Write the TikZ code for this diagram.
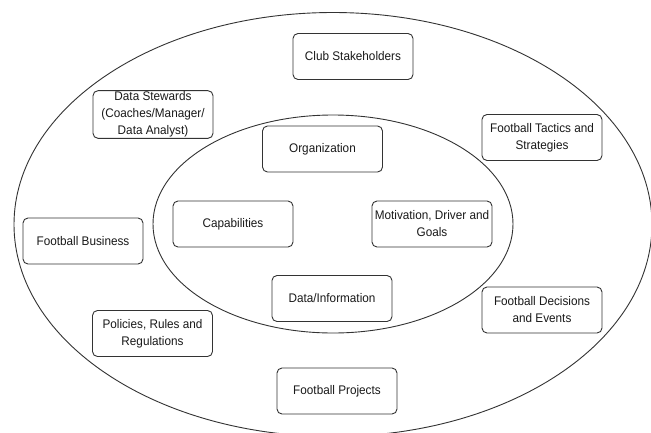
\documentclass[tikz,border=0pt]{standalone}
\usepackage{fontspec}
\setmainfont[FakeStretch=0.94]{Liberation Sans}
\usetikzlibrary{positioning}

\begin{document}
\begin{tikzpicture}[x=1pt, y=-1pt]
				\tikzset {ring/.style={draw=black!80, line width=0.9pt},
					block/.style={draw=black!80, line width=0.9pt, rounded corners=5pt, minimum width=120pt, minimum height=46pt, inner sep=1pt, align=center, text=black!90, font=\fontsize{12.5}{17}\selectfont} }
					\useasboundingbox (0,0) rectangle (651,432);
					\clip (0,0) rectangle (651,432);
					\fill[white] (0,0) rectangle (651,432);
					% outer and inner rings
					\draw[ring] (333,224.5) ellipse [x radius=319, y radius=212];
					\draw[ring] (333,224) ellipse [x radius=180, y radius=109];
					% outer ring
					\node[block] (club) at (353,56.5) {Club Stakeholders};
					\node[block] (stewards) at (153,114.5) {Data Stewards\\(Coaches/Manager/\\Data Analyst)};
					\node[block] (tactics) at (542,137.5) {Football Tactics and\\Strategies};
					\node[block] (business) at (83,241) {Football Business};
					\node[block] (decisions) at (542,310) {Football Decisions\\and Events};
					\node[block] (policies) at (152.5,333.5) {Policies, Rules and\\Regulations};
					\node[block] (projects) at (337,391) {Football Projects};
					% inner ring
					\node[block] (org) at (322.5,149) {Organization};
					\node[block] (cap) at (233,224) {Capabilities};
					\node[block] (motiv) at (432,224) {Motivation, Driver and\\Goals};
					\node[block] (data) at (332,298.5) {Data/Information};
			\end{tikzpicture}
\end{document}
